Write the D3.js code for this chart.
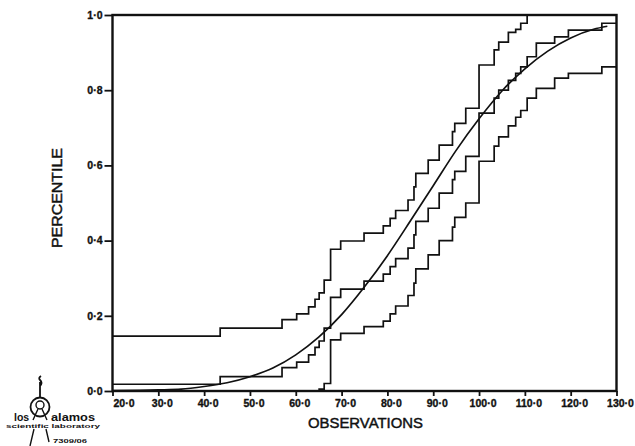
<!DOCTYPE html>
<html>
<head>
<meta charset="utf-8">
<script src="https://cdn.jsdelivr.net/npm/d3@7/dist/d3.min.js"></script>
<style>
  html, body { margin: 0; padding: 0; background: #fff; }
  svg { display: block; }
  .tick text { font-family: "Liberation Sans", Arial, sans-serif; font-weight: bold; font-size: 10.5px; fill: #111; stroke: #111; stroke-width: 0.35px; }
</style>
</head>
<body>
<svg id="chart" width="635" height="446"></svg>
<script>
// Observation values where the step functions jump
const observations = [43.5, 57.0, 60.2, 62.8, 64.2, 65.1, 66.2, 67.6, 69.8, 74.9,
  79.1, 80.6, 81.8, 84.5, 85.8, 86.2, 88.9, 91.3, 94.2, 94.7,
  97.1, 100.0, 103.3, 104.3, 106.4, 108.0, 109.1, 110.5, 112.5, 116.5,
  119.5, 126.8];

// Empirical percentile (level reached after each observation) and its start level
const empiricalStart = 0.018;
const empirical = [0.038, 0.062, 0.077, 0.096, 0.116, 0.133, 0.167, 0.249, 0.271, 0.292,
  0.311, 0.331, 0.352, 0.380, 0.415, 0.451, 0.486, 0.526, 0.562, 0.584,
  0.624, 0.739, 0.779, 0.800, 0.826, 0.845, 0.862, 0.889, 0.925, 0.942,
  0.960, 0.978];

// Upper confidence band
const upperStart = 0.146;
const upper = [0.167, 0.190, 0.205, 0.224, 0.244, 0.261, 0.295, 0.377, 0.399, 0.420,
  0.439, 0.459, 0.480, 0.508, 0.543, 0.579, 0.614, 0.654, 0.690, 0.712,
  0.752, 0.867, 0.907, 0.928, 0.954, 0.962, 0.978, 1.0, 1.0, 1.0,
  1.0, 1.0];

// Lower confidence band
const lowerStart = 0.0;
const lower = [0.0, 0.0, 0.0, 0.0, 0.0, 0.005, 0.020, 0.136, 0.153, 0.171,
  0.186, 0.205, 0.226, 0.254, 0.287, 0.325, 0.362, 0.400, 0.436, 0.462,
  0.500, 0.611, 0.651, 0.676, 0.705, 0.728, 0.746, 0.779, 0.805, 0.832,
  0.845, 0.862];

// Fitted distribution curve (observation, percentile)
const fittedX = [20, 30, 35, 40, 45, 50, 55, 60, 65, 70, 75, 80, 85, 90, 95, 100, 105, 110, 115, 120, 125, 128];
const fittedP = [0.001, 0.003, 0.005, 0.012, 0.022, 0.038, 0.061, 0.096, 0.143, 0.203, 0.277, 0.360, 0.452, 0.546, 0.640, 0.724, 0.798, 0.857, 0.904, 0.939, 0.962, 0.970];

// Axis ticks
const xTicks = [20, 30, 40, 50, 60, 70, 80, 90, 100, 110, 120, 130];
const yTicks = [0, 0.2, 0.4, 0.6, 0.8, 1.0];

const svg = d3.select("#chart");
const x = d3.scaleLinear().domain([20, 130]).range([112.5, 616.5]);
const y = d3.scaleLinear().domain([0, 1]).range([391, 15]);
const fmt = v => d3.format(".1f")(v).replace(".", "\u00B7");

// Step curves
function stepPoints(start, levels) {
  const pts = [[20, start]];
  observations.forEach((o, i) => pts.push([o, levels[i]]));
  pts.push([130, levels[levels.length - 1]]);
  return pts;
}
const stepLine = d3.line().x(d => x(d[0])).y(d => y(d[1])).curve(d3.curveStepAfter);

const curves = svg.append("g").attr("fill", "none").attr("stroke", "#111")
  .attr("stroke-width", 1.7).attr("stroke-linejoin", "miter");
[[upperStart, upper], [empiricalStart, empirical], [lowerStart, lower]].forEach(([s, lv]) => {
  curves.append("path").attr("d", stepLine(stepPoints(s, lv)));
});

const smooth = d3.line().x((d, i) => x(d)).y((d, i) => y(fittedP[i])).curve(d3.curveMonotoneX);
curves.append("path").attr("d", smooth(fittedX));

// Axes
const xAxis = d3.axisBottom(x).tickValues(xTicks).tickFormat(fmt).tickSize(5).tickPadding(4);
const gx = svg.append("g").attr("transform", `translate(0,${y(0)})`).call(xAxis);
gx.selectAll(".tick text").attr("dx", (d, i) => i === 0 ? 11 : 3.5);

const yAxis = d3.axisLeft(y).tickValues(yTicks).tickFormat(fmt).tickSize(8).tickPadding(2);
const gy = svg.append("g").attr("transform", `translate(${x(20)},0)`).call(yAxis);

[gx, gy].forEach(g => {
  g.select(".domain").remove();
  g.selectAll(".tick line").attr("stroke", "#111").attr("stroke-width", 1.8);
});

// Frame
svg.append("rect")
  .attr("x", x(20)).attr("y", y(1))
  .attr("width", x(130) - x(20)).attr("height", y(0) - y(1))
  .attr("fill", "none").attr("stroke", "#111").attr("stroke-width", 2.4);

// Axis titles
svg.append("text")
  .attr("x", (x(20) + x(130)) / 2 + 1).attr("y", 427.5)
  .attr("text-anchor", "middle")
  .attr("font-family", "'Liberation Sans', Arial, sans-serif")
  .attr("font-size", 14.5).attr("fill", "#111")
  .attr("stroke", "#111").attr("stroke-width", 0.45)
  .attr("textLength", 115).attr("lengthAdjust", "spacingAndGlyphs")
  .text("OBSERVATIONS");

svg.append("text")
  .attr("transform", "translate(62,198) rotate(-90)")
  .attr("text-anchor", "middle")
  .attr("font-family", "'Liberation Sans', Arial, sans-serif")
  .attr("font-size", 14.5).attr("fill", "#111")
  .attr("stroke", "#111").attr("stroke-width", 0.45)
  .attr("textLength", 100).attr("lengthAdjust", "spacingAndGlyphs")
  .text("PERCENTILE");

// Laboratory emblem
const logo = svg.append("g").attr("stroke", "#111").attr("fill", "none").attr("stroke-width", 1.8);
logo.append("circle").attr("cx", 40).attr("cy", 407).attr("r", 9.5);
logo.append("circle").attr("cx", 40).attr("cy", 405).attr("r", 4).attr("stroke-width", 1.4);
logo.append("path").attr("d", "M40,397 L40,382 M40,386 q3,-3 0,-6 q-2,-2 1,-4");
logo.append("path").attr("d", "M38,409 L33,420 M42,409 L47,420").attr("stroke-width", 1.4);
logo.append("path").attr("d", "M34,429 L30,446 M46,429 L49,442").attr("stroke-width", 1.4);

const logoText = svg.append("g").attr("font-family", "'Liberation Sans', Arial, sans-serif")
  .attr("font-weight", "bold").attr("fill", "#111");
logoText.append("text").attr("x", 14).attr("y", 421).attr("font-size", 10.5).text("los");
logoText.append("text").attr("x", 51).attr("y", 421).attr("font-size", 10.5)
  .attr("textLength", 44).attr("lengthAdjust", "spacingAndGlyphs").text("alamos");
logoText.append("text").attr("x", 6).attr("y", 428).attr("font-size", 5.8)
  .attr("textLength", 94).attr("lengthAdjust", "spacingAndGlyphs").text("scientific laboratory");
logoText.append("text").attr("x", 53).attr("y", 443).attr("font-size", 5)
  .attr("textLength", 34).attr("lengthAdjust", "spacingAndGlyphs").text("7309/06");
</script>
</body>
</html>
